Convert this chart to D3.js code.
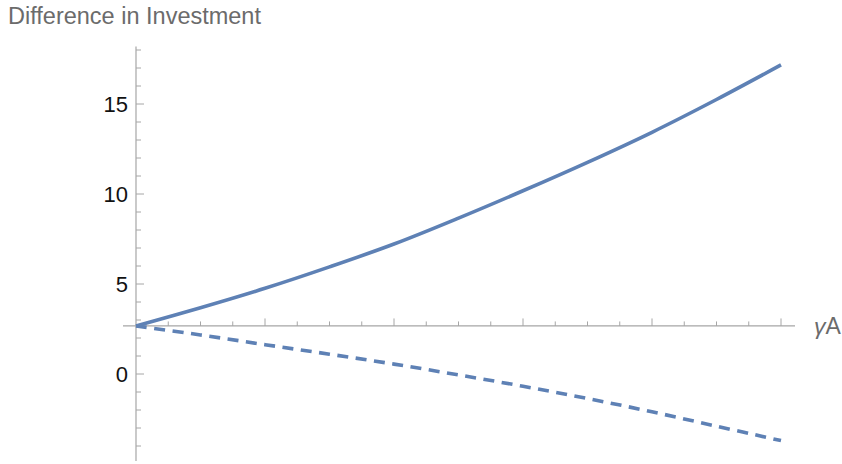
<!DOCTYPE html>
<html><head><meta charset="utf-8">
<script src="https://cdn.jsdelivr.net/npm/d3@7"></script>
<style>body{margin:0;background:#fff}svg{display:block}</style>
</head><body>
<svg id="c" width="842" height="464"></svg>
<script>
const xValues = [0, 0.5, 1, 1.5, 2, 2.5, 3, 3.5, 4, 4.5, 5];
const solidValues = [2.67, 3.68, 4.76, 5.95, 7.22, 8.66, 10.18, 11.76, 13.43, 15.25, 17.17];
const dashedValues = [2.67, 2.17, 1.63, 1.1, 0.55, -0.05, -0.68, -1.36, -2.1, -2.9, -3.7];
const yMajorTicks = [0, 5, 10, 15];
const yMinorTicks = d3.range(-4, 19, 1);
const xMajorTicks = [1, 2, 3, 4, 5];
const xMinorTicks = d3.range(0.25, 5.01, 0.25);
const title = "Difference in Investment";
const xLabel = "A";

const svg = d3.select("#c");
const x = d3.scaleLinear().domain([0, 5]).range([136, 781]);
const y = d3.scaleLinear().domain([0, 15]).range([374, 104]);
const axisY = 2.67;
const axisColor = "#a6a6a6";
const font = "Liberation Sans, Arial, sans-serif";

// title
svg.append("text").attr("x", 8).attr("y", 24)
  .attr("font-family", font).attr("font-size", 23.5)
  .attr("fill", "#6b6b6b").text(title);

// y axis line
svg.append("line").attr("x1", 136).attr("x2", 136)
  .attr("y1", y(18.2)).attr("y2", y(-4.83))
  .attr("stroke", axisColor).attr("stroke-width", 1.2);
// y ticks
svg.selectAll(".ymin").data(yMinorTicks.filter(v => !yMajorTicks.includes(v))).enter()
  .append("line").attr("x1", 136).attr("x2", 141)
  .attr("y1", d => y(d)).attr("y2", d => y(d))
  .attr("stroke", axisColor).attr("stroke-width", 1);
svg.selectAll(".ymaj").data(yMajorTicks).enter()
  .append("line").attr("x1", 136).attr("x2", 144)
  .attr("y1", d => y(d)).attr("y2", d => y(d))
  .attr("stroke", axisColor).attr("stroke-width", 1);
svg.selectAll(".ylab").data(yMajorTicks).enter()
  .append("text").attr("x", 128).attr("y", d => y(d)).attr("dy", "0.36em")
  .attr("text-anchor", "end")
  .attr("font-family", font).attr("font-size", 22)
  .attr("fill", "#111").text(d => d);

// x axis line
svg.append("line").attr("x1", 123).attr("x2", 795)
  .attr("y1", y(axisY)).attr("y2", y(axisY))
  .attr("stroke", axisColor).attr("stroke-width", 1.2);
svg.selectAll(".xmin").data(xMinorTicks.filter(v => Math.abs(v - Math.round(v)) > 1e-6)).enter()
  .append("line").attr("x1", d => x(d)).attr("x2", d => x(d))
  .attr("y1", y(axisY)).attr("y2", y(axisY) - 4.5)
  .attr("stroke", axisColor).attr("stroke-width", 1);
svg.selectAll(".xmaj").data(xMajorTicks).enter()
  .append("line").attr("x1", d => x(d)).attr("x2", d => x(d))
  .attr("y1", y(axisY)).attr("y2", y(axisY) - 7.5)
  .attr("stroke", axisColor).attr("stroke-width", 1);
const xl = svg.append("text").attr("x", 814).attr("y", y(axisY)).attr("dy", "0.36em")
  .attr("font-family", font).attr("font-size", 23)
  .attr("fill", "#6b6b6b");
xl.append("tspan").attr("font-style", "italic").text("γ");
xl.append("tspan").text(xLabel);

const color = "#5e81b5";
const line = d3.line().x((d, i) => x(xValues[i])).y(d => y(d)).curve(d3.curveCatmullRom);
svg.append("path").datum(dashedValues).attr("d", line)
  .attr("fill", "none").attr("stroke", color).attr("stroke-width", 3.6)
  .attr("stroke-dasharray", "11,7.5");
svg.append("path").datum(solidValues).attr("d", line)
  .attr("fill", "none").attr("stroke", color).attr("stroke-width", 3.6);
</script>
</body></html>
